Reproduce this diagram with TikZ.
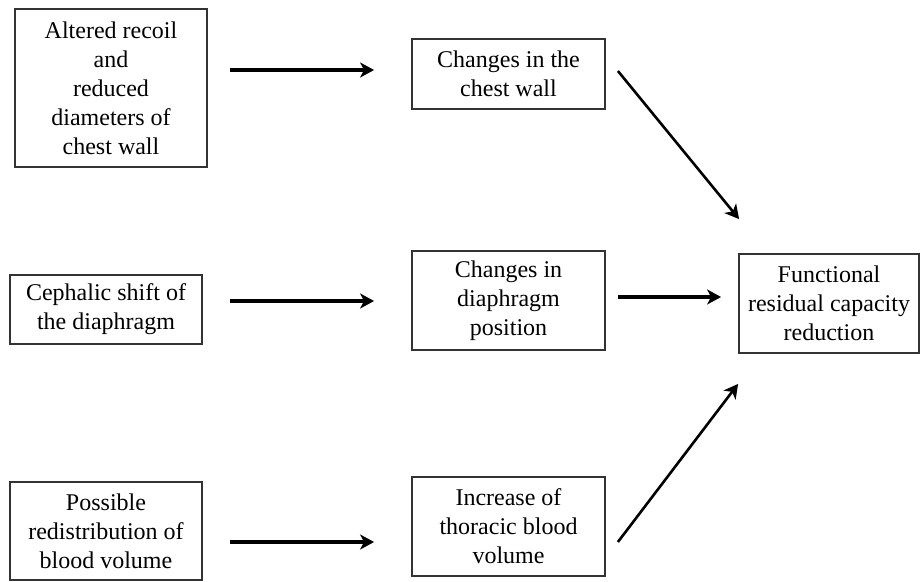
\documentclass[tikz,border=0pt]{standalone}
\usepackage{fontspec}
\setmainfont{Liberation Serif}
\usetikzlibrary{arrows.meta}
\begin{document}
\begin{tikzpicture}[x=1pt,y=1pt,
  box/.style={draw=black!80,line width=1.8pt,align=center,inner sep=0pt,
    font=\fontsize{24}{29}\selectfont,text=black},
  arr/.style={line width=3.2pt,-{Stealth[length=14pt,width=15pt,inset=4pt]}}]
\useasboundingbox (0,0) rectangle (920,581);
\node[box,minimum width=192pt,minimum height=158pt] (a1) at (111,493) {\raisebox{-3pt}{\parbox{190pt}{\centering Altered recoil\\and\\reduced\\diameters of\\chest wall}}};
\node[box,minimum width=192pt,minimum height=69pt] (a2) at (106,271.5) {Cephalic shift of\\the diaphragm};
\node[box,minimum width=192pt,minimum height=98pt] (a3) at (106,50) {Possible\\redistribution of\\blood volume};
\node[box,minimum width=193pt,minimum height=70pt] (b1) at (508.5,507) {Changes in the\\chest wall};
\node[box,minimum width=193pt,minimum height=99pt] (b2) at (508.5,280.5) {Changes in\\diaphragm\\position};
\node[box,minimum width=193pt,minimum height=99pt] (b3) at (508.5,54.5) {Increase of\\thoracic blood\\volume};
\node[box,minimum width=180pt,minimum height=99pt] (c) at (829,277.5) {Functional\\residual capacity\\reduction};
\draw[arr] ([xshift=22pt,yshift=18pt]a1.east) -- ([xshift=-37pt,yshift=4pt]b1.west);
\draw[arr] ([xshift=27pt,yshift=8.5pt]a2.east) -- ([xshift=-37pt,yshift=-0.5pt]b2.west);
\draw[arr] ([xshift=27pt,yshift=-11pt]a3.east) -- ([xshift=-37pt,yshift=-15.5pt]b3.west);
\draw[arr] ([xshift=12pt,yshift=3.5pt]b2.east) -- ([xshift=-17pt,yshift=6.5pt]c.west);
\draw[arr,line width=2.6pt] ([xshift=12pt,yshift=3pt]b1.east) -- ([xshift=1pt,yshift=34pt]c.north west);
\draw[arr,line width=2.6pt] ([xshift=12pt,yshift=-15.5pt]b3.east) -- ([xshift=0pt,yshift=-30pt]c.south west);
\end{tikzpicture}
\end{document}
